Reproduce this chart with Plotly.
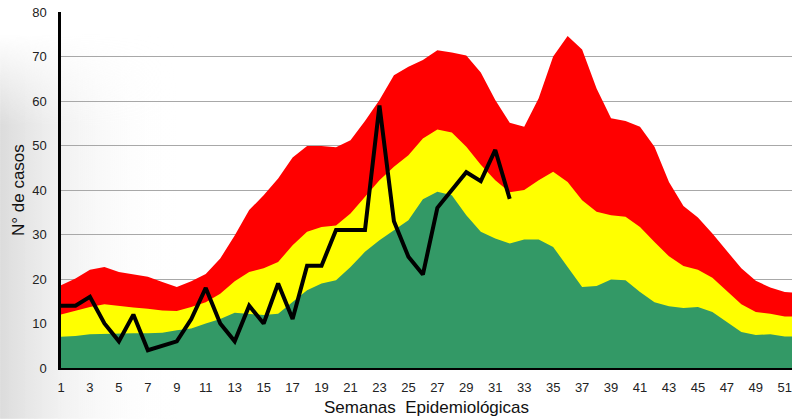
import base64
import plotly.graph_objects as go

weeks = list(range(1, 53))

# Upper limit (epidemic / red zone top)
red_top = [18.6, 20.1, 22.1, 22.7, 21.6, 21.0, 20.5, 19.3, 18.2, 19.5,
           21.1, 24.6, 29.8, 35.5, 38.8, 42.6, 47.3, 49.9, 49.9, 49.6,
           51.2, 55.5, 60.2, 65.8, 67.7, 69.2, 71.4, 70.9, 70.2, 66.4,
           60.2, 55.1, 54.2, 60.6, 70.0, 74.6, 71.6, 62.8, 56.1, 55.5,
           54.2, 49.7, 41.8, 36.4, 33.8, 30.2, 26.3, 22.4, 19.6, 18.1,
           17.1, 16.8]
# Alert zone (yellow) top
yellow_top = [12.0, 12.8, 13.7, 14.3, 13.9, 13.6, 13.3, 12.9, 12.8, 13.7,
              14.8, 16.7, 19.5, 21.6, 22.4, 23.8, 27.6, 30.6, 31.7, 32.0,
              34.7, 38.5, 42.2, 45.2, 47.8, 51.6, 53.6, 52.9, 49.7, 45.7,
              42.2, 39.5, 40.0, 42.2, 44.1, 41.8, 37.7, 35.1, 34.3, 34.0,
              31.7, 28.3, 25.1, 22.9, 22.1, 20.3, 17.3, 14.3, 12.6, 12.2,
              11.6, 11.5]
# Safety zone (green) top
green_top = [7.0, 7.2, 7.6, 7.7, 7.8, 7.8, 7.8, 7.9, 8.5, 8.9,
             10.0, 11.0, 12.4, 12.2, 11.9, 12.2, 14.8, 17.5, 19.0, 19.7,
             22.7, 26.1, 28.7, 31.0, 33.2, 37.9, 39.6, 38.8, 34.3, 30.6,
             29.1, 28.0, 28.9, 28.9, 27.2, 22.7, 18.2, 18.4, 19.9, 19.7,
             17.1, 14.8, 13.9, 13.5, 13.7, 12.6, 10.3, 8.1, 7.4, 7.6,
             7.1, 7.1]
# Current cases (weeks 1-32)
case_weeks = list(range(1, 33))
cases = [14, 14, 16, 10, 6, 12, 4, 5, 6, 11,
         18, 10, 6, 14, 10, 19, 11, 23, 23, 31,
         31, 31, 59, 33, 25, 21, 36, 40, 44, 42,
         49, 38]

x_ticks = list(range(1, 52, 2))
y_ticks = list(range(0, 81, 10))

# faint grey backdrop on the left side (decorative background picture)
svg = ('<svg xmlns="http://www.w3.org/2000/svg" width="200" height="419">'
       '<defs><linearGradient id="g" x1="0" y1="0" x2="1" y2="0">'
       '<stop offset="0" stop-color="#b8b8b8" stop-opacity="0.5"/>'
       '<stop offset="0.3" stop-color="#c8c8c8" stop-opacity="0.25"/>'
       '<stop offset="0.9" stop-color="#ffffff" stop-opacity="0"/>'
       '</linearGradient>'
       '<linearGradient id="v" x1="0" y1="0" x2="0" y2="1">'
       '<stop offset="0.08" stop-color="#fff" stop-opacity="0"/>'
       '<stop offset="0.3" stop-color="#fff" stop-opacity="1"/>'
       '<stop offset="1" stop-color="#fff" stop-opacity="1"/>'
       '</linearGradient>'
       '<mask id="m"><rect width="200" height="419" fill="url(#v)"/></mask></defs>'
       '<rect width="200" height="419" fill="url(#g)" mask="url(#m)"/></svg>')
svg_uri = "data:image/svg+xml;base64," + base64.b64encode(svg.encode()).decode()

fig = go.Figure()
for vals, col in [(red_top, "#FF0000"), (yellow_top, "#FFFF00"), (green_top, "#339966")]:
    fig.add_trace(go.Scatter(x=weeks, y=vals, mode="lines", fill="tozeroy",
                             fillcolor=col, line=dict(width=0, color=col),
                             hoverinfo="skip", showlegend=False))
fig.add_trace(go.Scatter(x=case_weeks, y=cases, mode="lines",
                         line=dict(color="black", width=4), showlegend=False))

font_family = "Liberation Sans, Arial, sans-serif"
fig.update_layout(
    width=792, height=419,
    margin=dict(l=61, r=0, t=12, b=51),
    paper_bgcolor="white", plot_bgcolor="rgba(0,0,0,0)",
    font=dict(family=font_family, color="#222", size=13),
    images=[dict(source=svg_uri, xref="paper", yref="paper", x=-0.0834, y=1.034,
                 sizex=0.274, sizey=1.177, xanchor="left", yanchor="top",
                 sizing="stretch", layer="below")],
    xaxis=dict(range=[1, 51.5], tickmode="array", tickvals=x_ticks,
               ticktext=[str(t) for t in x_ticks], showgrid=False,
               showline=True, linecolor="black", linewidth=1.5,
               ticks="outside", ticklen=7, tickcolor="rgba(0,0,0,0)",
               zeroline=False, tickfont=dict(size=13)),
    yaxis=dict(range=[0, 80], tickmode="array", tickvals=y_ticks,
               showgrid=True, gridcolor="#A8A8A8", gridwidth=1,
               showline=True, linecolor="black", linewidth=2.5,
               ticks="outside", ticklen=9, tickcolor="rgba(0,0,0,0)",
               zeroline=False, tickfont=dict(size=13)),
    annotations=[
        dict(text="N° de casos", xref="paper", yref="paper", x=-0.0588, y=0.5,
             textangle=-90, showarrow=False, font=dict(size=17, color="#111"),
             xanchor="center", yanchor="middle"),
        dict(text="Semanas  Epidemiológicas", xref="paper", yref="paper",
             x=0.5, y=-0.1096, showarrow=False, font=dict(size=17, color="#111"),
             xanchor="center", yanchor="middle"),
    ],
)
# the page body has a default 8px margin; remove it so the figure fills the window
fig.write_html("out.html", config={"displayModeBar": False},
               post_script="document.body.style.margin='0';")
